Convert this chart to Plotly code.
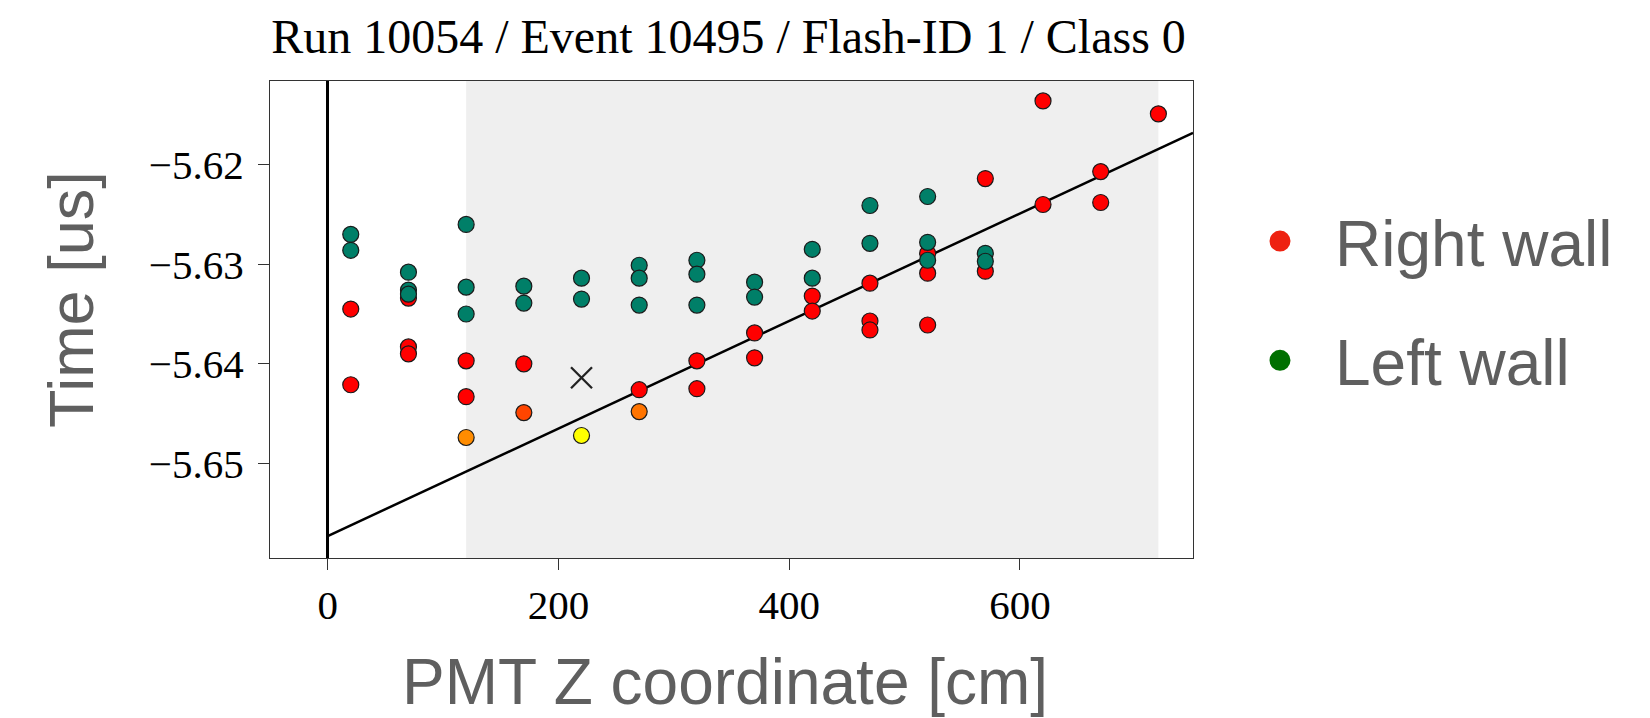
import plotly.graph_objects as go

# ---------------- data ----------------
right_x = [20, 20, 70, 70, 70, 120, 120, 120, 170, 170, 220, 270, 270, 320, 320,
           370, 370, 420, 420, 470, 470, 470, 520, 520, 520, 570, 570, 620, 620, 670, 670, 720]
right_y = [-5.6345, -5.6421, -5.6334, -5.6383, -5.6390, -5.6397, -5.6433, -5.6474,
           -5.6400, -5.6449, -5.6472, -5.6426, -5.6448, -5.6397, -5.6425,
           -5.6369, -5.6394, -5.6332, -5.6347, -5.6319, -5.6357, -5.6366,
           -5.6289, -5.6309, -5.6361, -5.6214, -5.6307, -5.6136, -5.6240,
           -5.6207, -5.6238, -5.6149]
right_colors = ["#ff0000", "#ff0000", "#ff0000", "#ff0000", "#ff0000", "#ff0000", "#ff0000", "#ff8c00",
                "#ff0000", "#ff4500", "#ffff00", "#ff0000", "#ff7400", "#ff0000", "#ff0000",
                "#ff0000", "#ff0000", "#ff0000", "#ff0000", "#ff0000", "#ff0000", "#ff0000",
                "#ff0000", "#ff0000", "#ff0000", "#ff0000", "#ff0000", "#ff0000", "#ff0000",
                "#ff0000", "#ff0000", "#ff0000"]

left_x = [20, 20, 70, 70, 70, 120, 120, 120, 170, 170, 220, 220, 270, 270, 270,
          320, 320, 320, 370, 370, 420, 420, 470, 470, 520, 520, 520, 570, 570]
left_y = [-5.6270, -5.6286, -5.6308, -5.6326, -5.6330, -5.6260, -5.6323, -5.6350,
          -5.6322, -5.6339, -5.6314, -5.6335, -5.6301, -5.6314, -5.6341,
          -5.6296, -5.6310, -5.6341, -5.6318, -5.6333, -5.6285, -5.6314,
          -5.6241, -5.6279, -5.6232, -5.6278, -5.6296, -5.6289, -5.6297]

flash_x = [220]
flash_y = [-5.6414]

fit_x = [0, 750]
fit_y = [-5.6573, -5.6168]

shade_range = [120, 720]
x_range = [-50, 750]
y_range = [-5.6595, -5.6116]
x_ticks = [0, 200, 400, 600]
y_ticks = [-5.62, -5.63, -5.64, -5.65]

title_text = "Run 10054 / Event 10495 / Flash-ID 1 / Class 0"
legend_names = ["Right wall", "Left wall"]
legend_colors = ["#ee2211", "#007000"]

# ---------------- figure ----------------
# the page body has an 8px margin; positions below are page coordinates minus that offset
OFF = 8
W, H = 1650 - OFF, 718 - OFF
L, T = 270 - OFF, 81 - OFF
pw, ph = 923, 477
R, B = W - L - pw, H - T - ph


def px_x(page_x):
    return (page_x - OFF - L) / pw


def px_y(page_y):
    return (ph - (page_y - OFF - T)) / ph


fig = go.Figure()

fig.add_trace(go.Scatter(x=fit_x, y=fit_y, mode="lines",
                         line=dict(color="black", width=2.5), showlegend=False, hoverinfo="skip"))
fig.add_trace(go.Scatter(x=right_x, y=right_y, mode="markers", showlegend=False,
                         marker=dict(color=right_colors, size=16, line=dict(color="#1a1a1a", width=1.2))))
fig.add_trace(go.Scatter(x=left_x, y=left_y, mode="markers", showlegend=False,
                         marker=dict(color="#007f68", size=16, line=dict(color="#1a1a1a", width=1.2))))
fig.add_trace(go.Scatter(x=flash_x, y=flash_y, mode="markers", showlegend=False,
                         marker=dict(symbol="x-thin", size=21, color="black",
                                     line=dict(color="#222222", width=2.3))))

for name, col in zip(legend_names, legend_colors):
    fig.add_trace(go.Scatter(x=[None], y=[None], mode="markers", name=name, legendgroup=name,
                             marker=dict(color=col, size=16, line=dict(color=col, width=5))))

fig.add_shape(type="rect", xref="x", yref="paper", x0=shade_range[0], x1=shade_range[1],
              y0=0, y1=1, fillcolor="#efefef", line=dict(width=0), layer="below")

serif = "Liberation Serif, Times New Roman, serif"
sans = "Liberation Sans, Arial, Helvetica, sans-serif"

fig.update_layout(
    width=W, height=H,
    margin=dict(l=L, r=R, t=T, b=B, autoexpand=False),
    paper_bgcolor="white", plot_bgcolor="white",
    title=dict(text=title_text, x=(728.5 - OFF) / W, xanchor="center",
               y=1 - (36 - OFF) / H, yanchor="middle", yref="container",
               font=dict(family=serif, size=48, color="black")),
    showlegend=True,
    legend=dict(x=px_x(1225), xanchor="left", y=px_y(193), yanchor="top",
                font=dict(family=sans, size=64, color="#5f5f5f"),
                itemwidth=100, tracegroupgap=33, bgcolor="rgba(0,0,0,0)", borderwidth=0),
    xaxis=dict(range=x_range, tickvals=x_ticks, showgrid=False,
               zeroline=True, zerolinecolor="black", zerolinewidth=3,
               showline=True, linecolor="#333333", linewidth=1.3, mirror=True,
               ticks="outside", ticklen=11, tickwidth=1.2, tickcolor="#333333",
               tickfont=dict(family=serif, size=41, color="black")),
    yaxis=dict(range=y_range, tickvals=y_ticks, tickformat=".2f", showgrid=False, zeroline=False,
               showline=True, linecolor="#333333", linewidth=1.3, mirror=True,
               ticks="outside", ticklen=11, tickwidth=1.2, tickcolor="#333333",
               ticklabelstandoff=6,
               tickfont=dict(family=serif, size=41, color="black")),
    annotations=[
        dict(text="PMT Z coordinate [cm]", xref="paper", yref="paper",
             x=px_x(725), y=px_y(682), xanchor="center", yanchor="middle",
             showarrow=False, font=dict(family=sans, size=64, color="#5f5f5f")),
        dict(text="Time [us]", xref="paper", yref="paper", textangle=-90,
             x=px_x(71), y=px_y(300), xanchor="center", yanchor="middle",
             showarrow=False, font=dict(family=sans, size=63, color="#5f5f5f")),
    ],
)

fig.write_html("out.html")
